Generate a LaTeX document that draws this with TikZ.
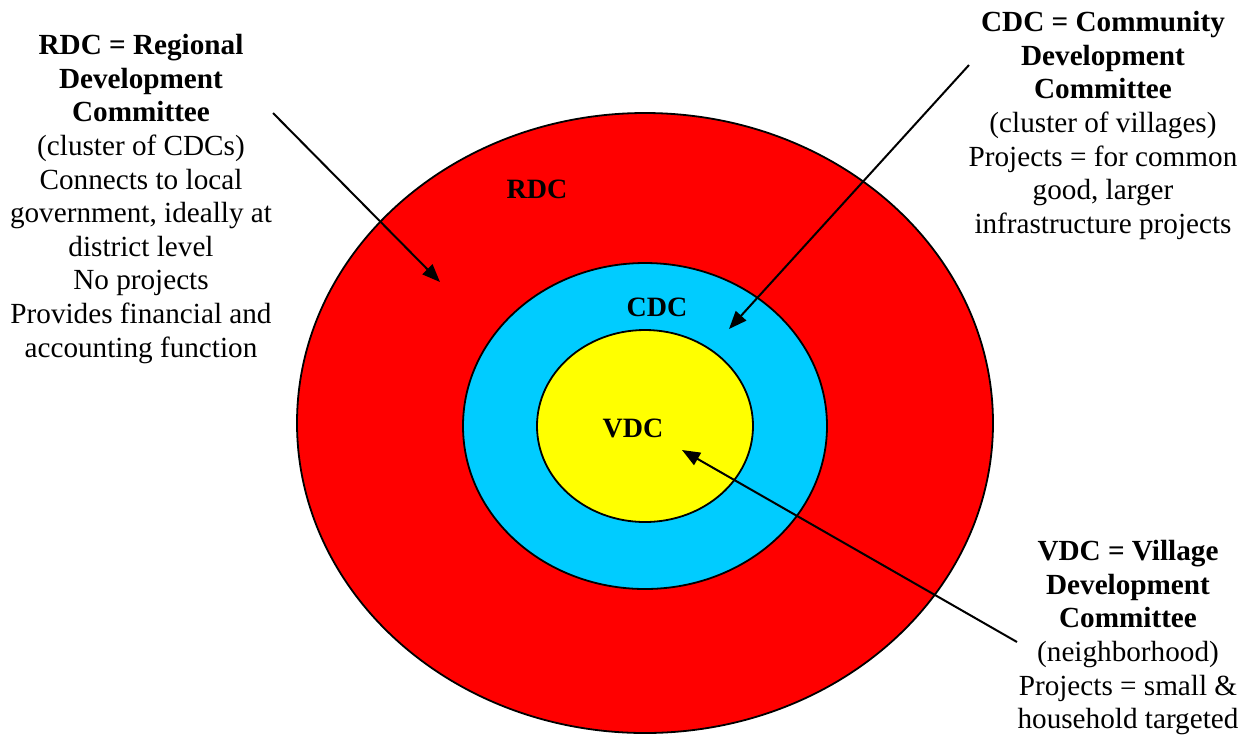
\documentclass[tikz,border=0pt]{standalone}
\usepackage{fontspec}
\setmainfont{Liberation Serif}
\usetikzlibrary{shapes.geometric, arrows.meta, positioning}
\definecolor{ringred}{HTML}{FF0000}
\definecolor{ringcyan}{HTML}{00CCFF}
\definecolor{ringyellow}{HTML}{FFFF00}
\tikzset{
  ring/.style      = {ellipse, draw=black, line width=0.9pt, inner sep=0pt},
  ringlabel/.style = {font=\fontsize{14}{17}\selectfont\bfseries, inner sep=0pt},
  legend/.style    = {align=center, inner sep=0pt, anchor=north,
                      font=\fontsize{14.6}{16.8}\selectfont},
  pointer/.style   = {-{Triangle[length=9pt, width=7pt]}, line width=1pt},
}

\begin{document}
\begin{tikzpicture}[x=0.5pt, y=-0.5pt]
  \useasboundingbox (0,0) rectangle (1249,736);

  \node[ring, fill=ringred, minimum width=348pt, minimum height=310pt] (rdc) at (645,423) {};
  \node[ring, fill=ringcyan, minimum width=182pt, minimum height=163pt] (cdc) at (645,426) {};
  \node[ring, fill=ringyellow, minimum width=108pt, minimum height=96pt] (vdc) at (645,426) {};

  \node[ringlabel] (rdclbl) at (537,189) {RDC};
  \node[ringlabel] (cdclbl) at (657,307) {CDC};
  \node[ringlabel] (vdclbl) at (633,428) {VDC};

  \node[legend] (rdctext) at (141,34)
    {\textbf{RDC = Regional}\\ \textbf{Development}\\ \textbf{Committee}\\
     (cluster of CDCs)\\ Connects to local\\ government, ideally at\\
     district level\\ No projects\\ Provides financial and\\ accounting function};
  \node[legend] (cdctext) at (1103,11)
    {\textbf{CDC = Community}\\ \textbf{Development}\\ \textbf{Committee}\\
     (cluster of villages)\\ Projects = for common\\ good, larger\\
     infrastructure projects};
  \node[legend] (vdctext) at (1128,540)
    {\textbf{VDC = Village}\\ \textbf{Development}\\ \textbf{Committee}\\
     (neighborhood)\\ Projects = small \&\\ household targeted};

  \coordinate (rdctail) at (273,113);
  \coordinate (rdctip) at (440,282);
  \coordinate (cdctail) at (969,65);
  \coordinate (cdctip) at (729,329);
  \coordinate (vdctail) at (1017,642);
  \coordinate (vdctip) at (682,450);

  \draw[pointer] (rdctail) -- (rdctip);
  \draw[pointer] (cdctail) -- (cdctip);
  \draw[pointer] (vdctail) -- (vdctip);
\end{tikzpicture}
\end{document}
